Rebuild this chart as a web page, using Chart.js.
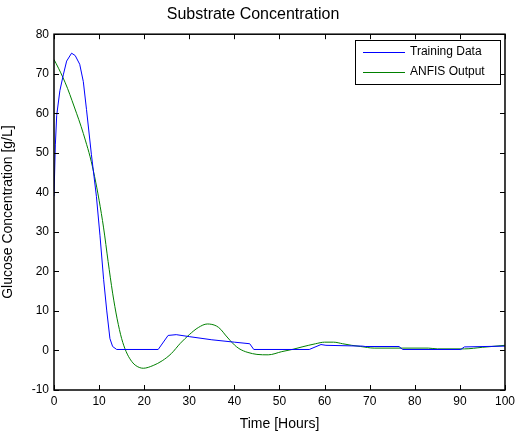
<!DOCTYPE html>
<html>
<head>
<meta charset="utf-8">
<script src="https://cdn.jsdelivr.net/npm/chart.js@4/dist/chart.umd.min.js"></script>
<style>
  html, body { margin: 0; padding: 0; background: #fff; }
  #wrap { width: 519px; height: 433px; }
</style>
</head>
<body>
<div id="wrap"><canvas id="substrateChart"></canvas></div>
<script>
// Values (time in hours, glucose in g/L)
const trainX = [0, 0.3, 0.6, 1.3, 2.1, 2.8, 3.9, 4.7, 5.7, 6.5, 7.2, 8.3, 9.4, 10.2, 11, 11.7, 12.4, 13, 13.9, 23.1, 25.3, 27.1, 30, 35, 40, 43.4, 44.3, 56.6, 59.2, 60.3, 68.4, 69, 76.5, 77.3, 90.2, 91, 100];
const trainY = [39, 52, 59.5, 65.7, 69.9, 73.2, 75.2, 74.6, 72.4, 68, 61, 49.5, 39, 29, 18, 10, 3, 1, 0.25, 0.25, 3.8, 4, 3.5, 2.7, 2.1, 1.7, 0.25, 0.25, 1.5, 1.3, 1.1, 1, 1, 0.25, 0.25, 0.9, 1.1];
const anfisX = [0, 1, 2, 3, 4, 5, 6, 7, 8, 9, 10, 11, 12, 13, 14, 15, 16, 17, 18, 19.8, 22, 24, 26, 28, 30, 32, 34, 36, 37, 38, 39, 40, 41, 42, 43, 45, 47.5, 50.5, 53, 55, 58, 60, 62, 64, 66, 68, 71, 83, 85, 91, 95, 100];
const anfisY = [73.6, 71.4, 69, 66.3, 63.2, 60, 56.7, 53, 49, 44, 38, 31, 22.5, 14.5, 8, 3, -0.3, -2.4, -3.7, -4.5, -3.8, -2.6, -0.8, 1.8, 4, 5.8, 6.7, 6.2, 5.3, 3.9, 2.6, 1.4, 0.5, -0.1, -0.5, -1, -1.1, -0.3, 0.3, 0.9, 1.7, 2.1, 2.1, 1.7, 1.3, 1, 0.6, 0.6, 0.4, 0.4, 0.8, 1.3];
const xTicks = [0, 10, 20, 30, 40, 50, 60, 70, 80, 90, 100];
const yTicks = [-10, 0, 10, 20, 30, 40, 50, 60, 70, 80];

const FONT = 'Arial, "Liberation Sans", sans-serif';

function toPoints(xs, ys) {
    return xs.map((x, i) => ({ x: x, y: ys[i] }));
}

// MATLAB-style frame: box around the axes with inward ticks on all sides
const framePlugin = {
    id: 'frame',
    afterDatasetsDraw(chart) {
        const ctx = chart.ctx;
        const a = chart.chartArea;
        const xs = chart.scales.x, ys = chart.scales.y;
        ctx.save();
        ctx.strokeStyle = '#000';
        ctx.lineWidth = 1;
        ctx.beginPath();
        xTicks.forEach(v => {
            const px = Math.round(xs.getPixelForValue(v)) + 0.5;
            ctx.moveTo(px, a.bottom); ctx.lineTo(px, a.bottom - 5);
            ctx.moveTo(px, a.top); ctx.lineTo(px, a.top + 5);
        });
        yTicks.forEach(v => {
            const py = Math.round(ys.getPixelForValue(v)) + 0.5;
            ctx.moveTo(a.left, py); ctx.lineTo(a.left + 5, py);
            ctx.moveTo(a.right, py); ctx.lineTo(a.right - 5, py);
        });
        ctx.stroke();
        ctx.lineWidth = 1.5;
        ctx.strokeRect(a.left, a.top, a.right - a.left, a.bottom - a.top);

        // legend box in the top right corner
        const bx = 355, by = 40, bw = 145, bh = 44;
        ctx.fillStyle = '#fff';
        ctx.fillRect(bx, by, bw, bh);
        ctx.lineWidth = 1;
        ctx.strokeRect(bx + 0.5, by + 0.5, bw, bh);
        ctx.font = '12px ' + FONT;
        ctx.textBaseline = 'middle';
        chart.data.datasets.forEach((ds, i) => {
            const ly = by + 12 + i * 20;
            ctx.strokeStyle = ds.borderColor;
            ctx.beginPath();
            ctx.moveTo(bx + 8, ly + 0.5); ctx.lineTo(bx + 50, ly + 0.5);
            ctx.stroke();
            ctx.fillStyle = '#000';
            ctx.fillText(ds.label, bx + 55, ly);
        });
        ctx.restore();
    }
};

const ctx = document.getElementById('substrateChart').getContext('2d');
const substrateChart = new Chart(ctx, {
    type: 'line',
    data: {
        datasets: [
            {
                label: 'Training Data',
                data: toPoints(trainX, trainY),
                borderColor: '#0000ff',
                borderWidth: 1,
                pointRadius: 0,
                tension: 0
            },
            {
                label: 'ANFIS Output',
                data: toPoints(anfisX, anfisY),
                borderColor: '#008000',
                borderWidth: 1,
                pointRadius: 0,
                cubicInterpolationMode: 'monotone'
            }
        ]
    },
    options: {
        responsive: true,
        maintainAspectRatio: false,
        animation: false,
        layout: { padding: { left: 0, right: 13, top: 0, bottom: 0 } },
        scales: {
            x: {
                type: 'linear',
                min: 0,
                max: 100,
                afterBuildTicks: s => { s.ticks = xTicks.map(v => ({ value: v })); },
                afterFit: s => { s.height = 43; },
                grid: { display: false, drawTicks: false },
                border: { display: false },
                ticks: { color: '#000', font: { family: FONT, size: 12 }, padding: 4, maxRotation: 0 },
                title: { display: true, text: 'Time [Hours]', color: '#000', font: { family: FONT, size: 14 }, padding: { top: 2, bottom: 0 } }
            },
            y: {
                min: -10,
                max: 80,
                afterBuildTicks: s => { s.ticks = yTicks.map(v => ({ value: v })); },
                afterFit: s => { s.width = 54; },
                grid: { display: false, drawTicks: false },
                border: { display: false },
                ticks: { color: '#000', font: { family: FONT, size: 12 }, padding: 5 },
                title: { display: true, text: 'Glucose Concentration [g/L]', color: '#000', font: { family: FONT, size: 14 }, padding: { top: 0, bottom: 2 } }
            }
        },
        plugins: {
            legend: { display: false },
            tooltip: { enabled: false },
            title: {
                display: true,
                text: 'Substrate Concentration',
                color: '#000',
                font: { family: FONT, size: 16, weight: 'normal' },
                padding: { top: 5, bottom: 10 }
            }
        }
    },
    plugins: [framePlugin]
});
</script>
</body>
</html>
